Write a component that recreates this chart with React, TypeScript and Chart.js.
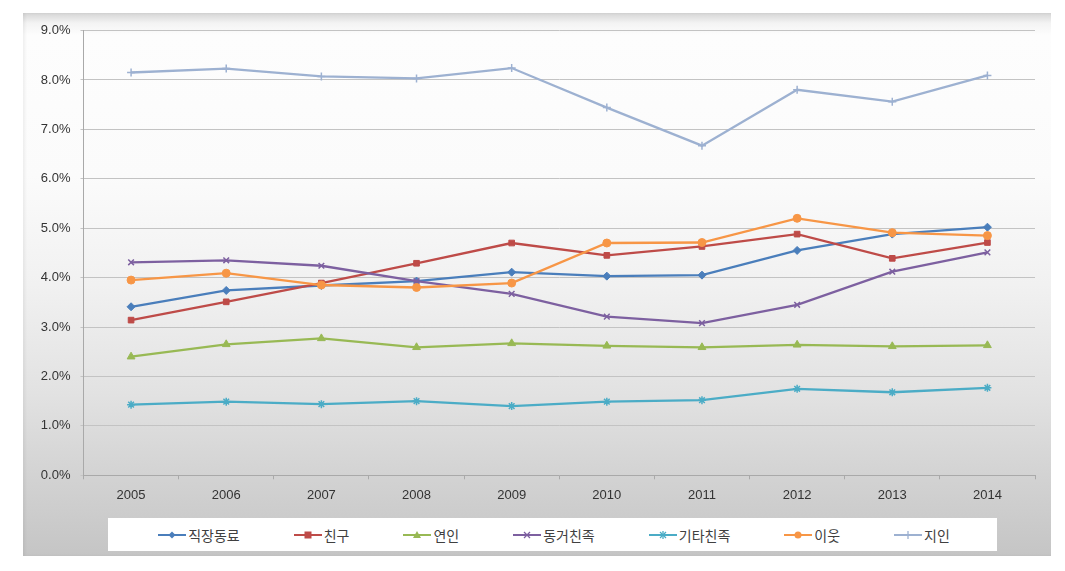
import React, { useEffect, useRef } from "react";
import { Chart, registerables } from "chart.js";

Chart.register(...registerables);

const years = ["2005", "2006", "2007", "2008", "2009", "2010", "2011", "2012", "2013", "2014"];
const coworkers = [3.41, 3.74, 3.84, 3.93, 4.11, 4.03, 4.05, 4.55, 4.88, 5.02];
const friends = [3.14, 3.51, 3.89, 4.29, 4.70, 4.45, 4.63, 4.88, 4.39, 4.71];
const partners = [2.40, 2.65, 2.77, 2.59, 2.67, 2.62, 2.59, 2.64, 2.61, 2.63];
const cohabitingKin = [4.31, 4.35, 4.24, 3.93, 3.67, 3.21, 3.08, 3.45, 4.12, 4.51];
const otherKin = [1.43, 1.49, 1.44, 1.50, 1.40, 1.49, 1.52, 1.75, 1.68, 1.77];
const neighbors = [3.95, 4.09, 3.85, 3.80, 3.89, 4.70, 4.71, 5.20, 4.91, 4.85];
const acquaintances = [8.15, 8.23, 8.07, 8.03, 8.24, 7.44, 6.67, 7.80, 7.56, 8.09];

const seriesNames = ["직장동료", "친구", "연인", "동거친족", "기타친족", "이웃", "지인"];
const seriesData = [coworkers, friends, partners, cohabitingKin, otherKin, neighbors, acquaintances];
const seriesColors = ["#4a7ebb", "#be4b48", "#98b954", "#7d60a0", "#4bacc6", "#f79646", "#9db1d1"];
const seriesMarkers = ["rectRot", "rect", "triangle", "crossRot", "star", "circle", "cross"];

const yMin = 0;
const yMax = 9;
const yStep = 1;

const tickFont = "'Liberation Sans', 'DejaVu Sans', sans-serif";
const legendFont = "'Noto Sans CJK KR', 'Noto Sans', sans-serif";

function LegendIcon({ color, marker }: { color: string; marker: string }) {
  const cx = 14;
  const cy = 6;
  let m: React.ReactNode = null;
  if (marker === "rectRot") {
    m = <polygon points={`${cx},${cy - 3.5} ${cx + 3.5},${cy} ${cx},${cy + 3.5} ${cx - 3.5},${cy}`} fill={color} />;
  } else if (marker === "rect") {
    m = <rect x={cx - 3.5} y={cy - 3.5} width={7} height={7} fill={color} />;
  } else if (marker === "triangle") {
    m = <polygon points={`${cx},${cy - 4} ${cx + 4},${cy + 3} ${cx - 4},${cy + 3}`} fill={color} />;
  } else if (marker === "crossRot") {
    m = (
      <g stroke={color} strokeWidth={1.3}>
        <line x1={cx - 3} y1={cy - 3} x2={cx + 3} y2={cy + 3} />
        <line x1={cx - 3} y1={cy + 3} x2={cx + 3} y2={cy - 3} />
      </g>
    );
  } else if (marker === "star") {
    m = (
      <g stroke={color} strokeWidth={1.3}>
        <line x1={cx - 3} y1={cy - 3} x2={cx + 3} y2={cy + 3} />
        <line x1={cx - 3} y1={cy + 3} x2={cx + 3} y2={cy - 3} />
        <line x1={cx} y1={cy - 4} x2={cx} y2={cy + 4} />
      </g>
    );
  } else if (marker === "circle") {
    m = <circle cx={cx} cy={cy} r={3.5} fill={color} />;
  } else if (marker === "cross") {
    m = (
      <g stroke={color} strokeWidth={1.3}>
        <line x1={cx} y1={cy - 4} x2={cx} y2={cy + 4} />
      </g>
    );
  }
  return (
    <svg width={28} height={12} style={{ display: "block" }}>
      <line x1={0} y1={cy} x2={28} y2={cy} stroke={color} strokeWidth={2} />
      {m}
    </svg>
  );
}

export default function App() {
  const canvasRef = useRef<HTMLCanvasElement | null>(null);

  useEffect(() => {
    const canvas = canvasRef.current;
    if (!canvas) return;
    const datasets = seriesNames.map((name, i) => ({
      label: name,
      data: seriesData[i],
      borderColor: seriesColors[i],
      backgroundColor: seriesColors[i],
      pointBackgroundColor: seriesColors[i],
      pointBorderColor: seriesColors[i],
      pointStyle: seriesMarkers[i] as any,
      pointRadius: seriesMarkers[i] === "triangle" ? 4.5 : 4,
      pointBorderWidth: ["crossRot", "star", "cross"].includes(seriesMarkers[i]) ? 1.5 : 1,
      borderWidth: 2.3,
      tension: 0,
      fill: false,
      order: seriesNames.length - i,
    }));

    const chart = new Chart(canvas, {
      type: "line",
      data: { labels: years, datasets },
      options: {
        animation: false,
        responsive: false,
        maintainAspectRatio: false,
        layout: {
          padding: { left: 0, right: 30, top: 30.5, bottom: 65.7 },
        },
        plugins: {
          legend: { display: false },
          tooltip: { enabled: false },
        },
        scales: {
          x: {
            type: "category",
            offset: true,
            grid: {
              display: true,
              drawOnChartArea: false,
              drawTicks: true,
              tickLength: 4,
              offset: true,
              color: "#a9a9a9",
            },
            border: { display: true, color: "#a9a9a9", width: 1 },
            ticks: {
              color: "#333333",
              font: { family: tickFont, size: 13 },
              padding: 8,
              maxRotation: 0,
            },
            afterFit: (s: any) => {
              s.height = 30;
            },
          },
          y: {
            min: yMin,
            max: yMax,
            grid: {
              color: "#c3c3c3",
              lineWidth: 1,
              drawTicks: true,
              tickLength: 3,
            },
            border: { display: true, color: "#a9a9a9", width: 1 },
            ticks: {
              stepSize: yStep,
              color: "#333333",
              font: { family: tickFont, size: 13 },
              padding: 10,
              callback: (v: any) => Number(v).toFixed(1) + "%",
            },
            afterFit: (s: any) => {
              s.width = 83.5;
            },
          },
        },
      },
    });
    return () => chart.destroy();
  }, []);

  return (
    <div style={{ position: "fixed", left: 0, top: 0, width: 1065, height: 571, background: "#ffffff", overflow: "hidden" }}>
      <div
        style={{
          position: "absolute",
          left: 23,
          top: 13,
          width: 1028,
          height: 543,
          background:
            "linear-gradient(to bottom, #d6d6d6 0px, #f3f3f3 10px, #fdfdfd 22px, #fbfbfb 30%, #f1f1f1 50%, #e2e2e2 70%, #d3d3d3 85%, #c5c5c5 100%)",
          boxShadow: "inset 2px 0 3px rgba(0,0,0,0.06)",
        }}
      />
      <canvas ref={canvasRef} width={1065} height={571} style={{ position: "absolute", left: 0, top: 0, width: 1065, height: 571 }} />
      <div
        style={{
          position: "absolute",
          left: 108,
          top: 518,
          width: 889,
          height: 33,
          background: "#ffffff",
          display: "flex",
          alignItems: "center",
          justifyContent: "center",
          gap: 54,
          paddingLeft: 3,
          boxSizing: "border-box",
        }}
      >
        {seriesNames.map((name, i) => (
          <div key={name} style={{ display: "flex", alignItems: "center" }}>
            <LegendIcon color={seriesColors[i]} marker={seriesMarkers[i]} />
            <span
              style={{
                marginLeft: 2,
                fontFamily: legendFont,
                fontSize: 14,
                color: "#404040",
                lineHeight: "16px",
                whiteSpace: "nowrap",
              }}
            >
              {name}
            </span>
          </div>
        ))}
      </div>
    </div>
  );
}
